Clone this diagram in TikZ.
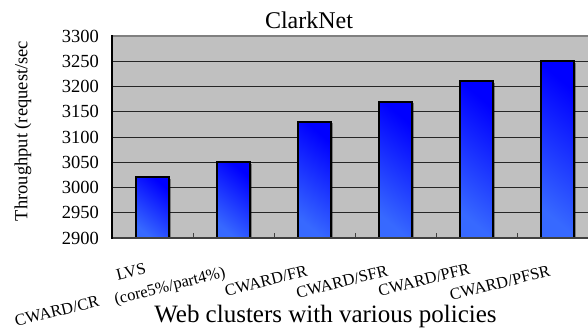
\documentclass[tikz,border=0pt]{standalone}
\usepackage{fontspec}
\setmainfont{Liberation Serif}
\definecolor{plotbg}{RGB}{192,192,192}
\definecolor{barlight}{RGB}{55,105,255}
\definecolor{bardark}{RGB}{0,0,255}
\begin{document}
\begin{tikzpicture}[x=1pt,y=1pt,
  gridline/.style={draw=black!85, line width=0.9pt},
  barbox/.style={draw=black, line width=2pt, top color=bardark, bottom color=barlight, shading angle=-40},
  barshadow/.style={fill=black, opacity=0.35},
  ticklab/.style={anchor=east, font=\fontsize{18.5}{20}\selectfont, inner sep=0pt},
  catlab/.style={rotate=14, font=\fontsize{16.5}{18}\selectfont, inner sep=0pt},
]
\useasboundingbox (0,0) rectangle (588,329);
\begin{scope}
\clip (0,0) rectangle (588,329);
% plot area
\fill[plotbg] (112,91) rectangle (600,293);
\foreach \v in {2950,3000,...,3250}
  \draw[gridline] (112,{91+(\v-2900)*0.505}) -- (600,{91+(\v-2900)*0.505});
\draw[draw=black!50, line width=1.6pt] (112,293) -- (600,293);
% bars
\foreach \v [count=\i from 0] in {3020,3050,3130,3170,3210,3250} {
  \fill[barshadow] ({152.5+81*\i-16.5+1.5},89.5) rectangle ({152.5+81*\i+16.5+1.5},{91+(\v-2900)*0.505-1.5});
  \draw[barbox] ({152.5+81*\i-16.5},91) rectangle ({152.5+81*\i+16.5},{91+(\v-2900)*0.505});
}
% axes
\draw[draw=black!75, line width=1.4pt] (111.3,91) -- (600,91);
\foreach \i in {0,...,4}
  \draw[draw=black!75, line width=1pt] ({193+81*\i},91) -- ({193+81*\i},96);
\draw[draw=black, line width=1.4pt] (112,90.3) -- (112,293.7);
\end{scope}
% tick labels
\foreach \v in {2900,2950,...,3300}
  \node[ticklab] (t\v) at (99,{91+(\v-2900)*0.505}) {\v};
% titles
\node[font=\fontsize{24}{26}\selectfont, anchor=base, inner sep=0pt] (title) at (309,300) {ClarkNet};
\node[font=\fontsize{25}{27}\selectfont, anchor=base, inner sep=0pt] (xlab) at (325.5,7) {Web clusters with various policies};
\node[rotate=90, font=\fontsize{18.5}{20}\selectfont, inner sep=0pt] (ylab) at (23,198) {Throughput (request/sec};
% category labels
\node[catlab] (c1) at (57,18) {CWARD/CR};
\node[catlab] (c2a) at (131,57) {LVS};
\node[catlab] (c2b) at (170,42) {(core5\%/part4\%)};
\node[catlab] (c3) at (266,48) {CWARD/FR};
\node[catlab] (c4) at (342,47) {CWARD/SFR};
\node[catlab] (c5) at (424,49) {CWARD/PFR};
\node[catlab] (c6) at (500,46) {CWARD/PFSR};
\end{tikzpicture}
\end{document}
